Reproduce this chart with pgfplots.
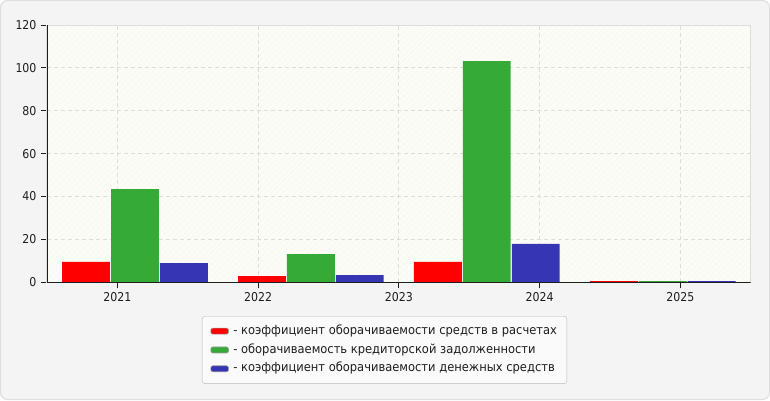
\documentclass[border=0pt]{standalone}
\usepackage{fontspec}
\setmainfont{DejaVu Sans}[FakeStretch=0.9]
\newfontfamily\legfont{DejaVu Sans}[FakeStretch=0.92]
\usepackage{pgfplots}
\pgfplotsset{compat=1.18}
\usetikzlibrary{patterns.meta}
\definecolor{bgc}{RGB}{244,244,244}
\definecolor{bordc}{RGB}{222,222,222}
\definecolor{plotbg}{RGB}{252,252,247}
\definecolor{hatch}{RGB}{243,243,238}
\definecolor{cred}{RGB}{255,0,0}
\definecolor{cgreen}{RGB}{54,170,54}
\definecolor{cblue}{RGB}{54,54,180}
\definecolor{gridc}{RGB}{221,221,221}
\definecolor{txt}{RGB}{30,30,30}
\begin{document}
\begin{tikzpicture}[x=1pt,y=1pt]
\useasboundingbox (0,0) rectangle (770,400);
\fill[rounded corners=7pt, fill=bgc, draw=bordc, line width=1pt] (0.5,0.5) rectangle (769.5,399.5);
\begin{axis}[
  at={(47pt,117.7pt)}, anchor=south west,
  scale only axis, width=703.7pt, height=257.3pt,
  xmin=0, xmax=20, ymin=0, ymax=120,
  ytick={0,20,40,60,80,100,120},
  xtick={2,6,10,14,18},
  xticklabels={2021,2022,2023,2024,2025},
  xtick pos=bottom, ytick pos=left,
  tick align=outside, major tick length=6pt,
  tick style={draw=txt, line width=0.8pt},
  axis line style={draw=gridc, line width=1pt},
  axis background/.style={fill=plotbg, postaction={pattern={Lines[angle=45,distance=4pt,line width=0.4pt]}, pattern color=hatch}},
  grid=major,
  major grid style={draw=gridc, dash pattern=on 4pt off 3pt, line width=0.8pt},
  /pgf/number format/assume math mode=true,
  ticklabel style={font=\fontsize{12.2}{14}\selectfont, text=txt},
  yticklabel style={xshift=-1pt},
  xticklabel style={yshift=-1pt},
  ybar, bar width=1.36,
  legend style={at={(0.4796,-0.263)}, anchor=center, draw=gray!55, fill=white!50!bgc, rounded corners=3pt,
    font=\legfont\fontsize{12.5}{14}\selectfont, text=txt, inner xsep=8.5pt, inner ysep=7.5pt, row sep=4pt,
    nodes={inner sep=1.5pt, text height=9pt, text depth=2.8pt}},
  legend cell align=left,
  legend image code/.code={\draw[#1, draw=gray!80, line width=0.6pt, rounded corners=2pt] (0pt,-3pt) rectangle (17.6pt,3pt);},
]
\addplot[draw=none, fill=cred, bar shift=-1.39] coordinates {(2.5,9.5) (7.5,2.9) (12.5,9.5) (17.5,0.6)};
\addplot[draw=none, fill=cgreen, bar shift=0] coordinates {(2.5,43.5) (7.5,13.2) (12.5,103.2) (17.5,0.6)};
\addplot[draw=none, fill=cblue, bar shift=1.39] coordinates {(2.5,9.0) (7.5,3.4) (12.5,17.9) (17.5,0.6)};
\legend{\hspace{3pt}- коэффициент оборачиваемости средств в расчетах, \hspace{3pt}- оборачиваемость кредиторской задолженности, \hspace{3pt}- коэффициент оборачиваемости денежных средств}
\draw[draw=txt, line width=0.8pt] (rel axis cs:0,1) -- (rel axis cs:0,0) -- (rel axis cs:1,0);
\end{axis}
\end{tikzpicture}
\end{document}
